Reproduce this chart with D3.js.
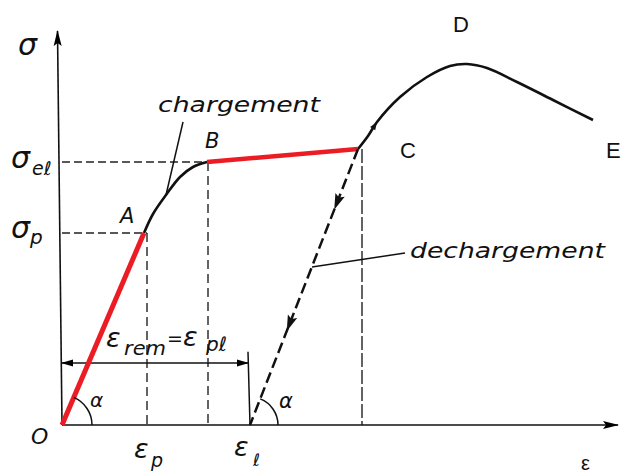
<!DOCTYPE html>
<html><head><meta charset="utf-8">
<script src="https://cdn.jsdelivr.net/npm/d3@7"></script>
<style>html,body{margin:0;padding:0;background:#fff;} svg{display:block;}</style>
</head><body>
<svg id="chart" width="621" height="475"></svg>
<script>
// Stress–strain diagram: strain ε on x, stress σ on y (drawing units)
const elasticSegment = [[0, 0], [16.4, 48]];                       // O → A
const transitionCurve = [[16.4, 48], [18.2, 52.75], [20.8, 57.5], [23.6, 62], [26.2, 64.5], [29, 65.75]]; // A → B
const plateauSegment = [[29, 65.75], [59.2, 69]];                  // B → C
const hardeningCurve = [[59.2, 69], [61.2, 72.25], [63, 75.75], [67.6, 82], [73, 87], [77.6, 89.75],
                        [81, 90.25], [85, 89.25], [91, 85.75], [98.2, 81.25], [106.2, 76.25]]; // C → D → E
const unloadingSegment = [[59.2, 69], [37.6, 0]];                  // C → εℓ
const stressRefs = [48, 65.75];                                    // σp, σel
const strainDrops = [[17, 48], [29.2, 65.75], [60, 69]];           // verticals under A, B, C
const strainRemanent = [0, 37.2];                                  // ε_rem span
const dimensionLevel = 15.5;

const svg = d3.select("#chart");
const x = d3.scaleLinear().domain([0, 111.6]).range([62, 620]);
const y = d3.scaleLinear().domain([0, 100]).range([425, 25]);
const line = d3.line().x(d => x(d[0])).y(d => y(d[1]));
const smooth = d3.line().x(d => x(d[0])).y(d => y(d[1])).curve(d3.curveCatmullRom.alpha(0.5));

const defs = svg.append("defs");
defs.append("marker").attr("id", "axisHead").attr("markerUnits", "userSpaceOnUse")
  .attr("markerWidth", 16).attr("markerHeight", 10).attr("refX", 15).attr("refY", 5)
  .attr("orient", "auto")
  .append("path").attr("d", "M0,1 L16,5 L0,9 L3,5 z").attr("fill", "#000");
defs.append("marker").attr("id", "dimHead").attr("markerUnits", "userSpaceOnUse")
  .attr("markerWidth", 12).attr("markerHeight", 8).attr("refX", 11).attr("refY", 4)
  .attr("orient", "auto-start-reverse")
  .append("path").attr("d", "M0,0.5 L12,4 L0,7.5 z").attr("fill", "#000");

const ink = "#111";
const red = "#ec1c24";
const hand = "'DejaVu Sans', sans-serif";
const plain = "'Liberation Sans', Arial, sans-serif";

// Reference dashed lines
svg.append("g").selectAll("line.h").data(stressRefs).join("line")
  .attr("x1", x(0)).attr("x2", (d, i) => x(strainDrops[i][0]))
  .attr("y1", d => y(d)).attr("y2", d => y(d))
  .attr("stroke", "#222").attr("stroke-width", 1.5).attr("stroke-dasharray", "8,4");
svg.append("g").selectAll("line.v").data(strainDrops).join("line")
  .attr("x1", d => x(d[0])).attr("x2", d => x(d[0]))
  .attr("y1", d => y(d[1])).attr("y2", y(0))
  .attr("stroke", "#222").attr("stroke-width", 1.4)
  .attr("stroke-dasharray", (d, i) => i === 2 ? "14,3" : "9,5");

// Axes
svg.append("path").attr("d", line([[0, 0], [111.2, 0]]))
  .attr("stroke", ink).attr("stroke-width", 1.6).attr("fill", "none").attr("marker-end", "url(#axisHead)");
svg.append("path").attr("d", line([[0, 0], [-0.9, 98.5]]))
  .attr("stroke", ink).attr("stroke-width", 1.6).attr("fill", "none").attr("marker-end", "url(#axisHead)");

// Remanent strain dimension
svg.append("path").attr("d", line([[strainRemanent[0], dimensionLevel], [strainRemanent[1], dimensionLevel]]))
  .attr("stroke", ink).attr("stroke-width", 1.5).attr("fill", "none")
  .attr("marker-start", "url(#dimHead)").attr("marker-end", "url(#dimHead)");
svg.append("line").attr("x1", x(strainRemanent[1])).attr("y1", y(dimensionLevel + 2.8))
  .attr("x2", x(unloadingSegment[1][0])).attr("y2", y(0))
  .attr("stroke", ink).attr("stroke-width", 1.5);

// Loading path
svg.append("path").attr("d", smooth(transitionCurve)).attr("stroke", ink).attr("stroke-width", 2.6).attr("fill", "none");
svg.append("path").attr("d", smooth(hardeningCurve)).attr("stroke", ink).attr("stroke-width", 2.6).attr("fill", "none");
svg.append("path").attr("d", line(elasticSegment)).attr("stroke", red).attr("stroke-width", 5).attr("fill", "none");
svg.append("path").attr("d", line(plateauSegment)).attr("stroke", red).attr("stroke-width", 4.5).attr("fill", "none");

// Unloading path
svg.append("path").attr("d", line(unloadingSegment)).attr("stroke", ink).attr("stroke-width", 2.5)
  .attr("stroke-dasharray", "11,5").attr("fill", "none");
const [c0, c1] = unloadingSegment;
const ux0 = x(c0[0]), uy0 = y(c0[1]), ux1 = x(c1[0]), uy1 = y(c1[1]);
const ang = Math.atan2(uy1 - uy0, ux1 - ux0) * 180 / Math.PI;
[0.22, 0.66].forEach(t => {
  svg.append("path").attr("d", "M0,0 L-16,-5 L-13,0 L-16,5 z").attr("fill", ink)
    .attr("transform", `translate(${ux0 + t * (ux1 - ux0)},${uy0 + t * (uy1 - uy0)}) rotate(${ang})`);
});
// small mark on the curve just above C
const p1 = hardeningCurve[1], p2 = hardeningCurve[2];
svg.append("path").attr("d", "M0,0 L-8,-3 L-8,3 z").attr("fill", ink)
  .attr("transform", `translate(${x(p2[0])},${y(p2[1])}) rotate(${Math.atan2(y(p2[1]) - y(p1[1]), x(p2[0]) - x(p1[0])) * 180 / Math.PI})`);

// Angle arcs α
function angleArc(pt, dir, r) {
  const px = x(pt[0]), py = y(pt[1]);
  const phi = Math.atan2(y(dir[1]) - py, x(dir[0]) - px);
  const p = d3.path();
  p.moveTo(px + r, py);
  p.arc(px, py, r, 0, phi, true);
  svg.append("path").attr("d", p.toString()).attr("stroke", ink).attr("stroke-width", 1.5).attr("fill", "none");
}
angleArc(elasticSegment[0], elasticSegment[1], 30);
angleArc(unloadingSegment[1], unloadingSegment[0], 28);

// Leader lines
svg.append("line").attr("x1", 183).attr("y1", 122).attr("x2", 166).attr("y2", 195).attr("stroke", ink).attr("stroke-width", 1.5);
svg.append("line").attr("x1", 405).attr("y1", 253).attr("x2", 312).attr("y2", 267).attr("stroke", ink).attr("stroke-width", 1.5);

// Labels
function label(txt, px, py, size, opts = {}) {
  const t = svg.append("text").attr("x", px).attr("y", py).text(txt)
    .attr("font-family", opts.plain ? plain : hand)
    .attr("font-style", opts.plain ? "normal" : "italic")
    .attr("font-size", size).attr("fill", ink);
  if (opts.len) t.attr("textLength", opts.len).attr("lengthAdjust", "spacingAndGlyphs");
  return t;
}
label("σ", 18, 55, 30);
label("σ", 11, 168, 30); label("eℓ", 32, 175, 19);
label("σ", 11, 238, 30); label("p", 30, 244, 20);
label("A", 120, 223, 21);
label("B", 205, 148, 21);
label("C", 400, 158, 22, {plain: true});
label("D", 453, 32, 22, {plain: true});
label("E", 606, 158, 22, {plain: true});
label("ε", 581, 470, 20, {plain: true});
label("O", 31, 444, 22);
label("α", 90, 407, 20);
label("α", 279, 408, 21);
label("ε", 134, 458, 27); label("p", 151, 467, 19);
label("ε", 234, 456, 27); label("ℓ", 253, 466, 17);
label("ε", 106, 347, 27); label("rem", 124, 355, 19, {len: 42});
label("=", 167, 345, 19);
label("ε", 183, 346, 27); label("pℓ", 206, 351, 20);
label("chargement", 158, 112, 22, {len: 162});
label("dechargement", 410, 258, 22, {len: 195});
</script>
</body></html>
